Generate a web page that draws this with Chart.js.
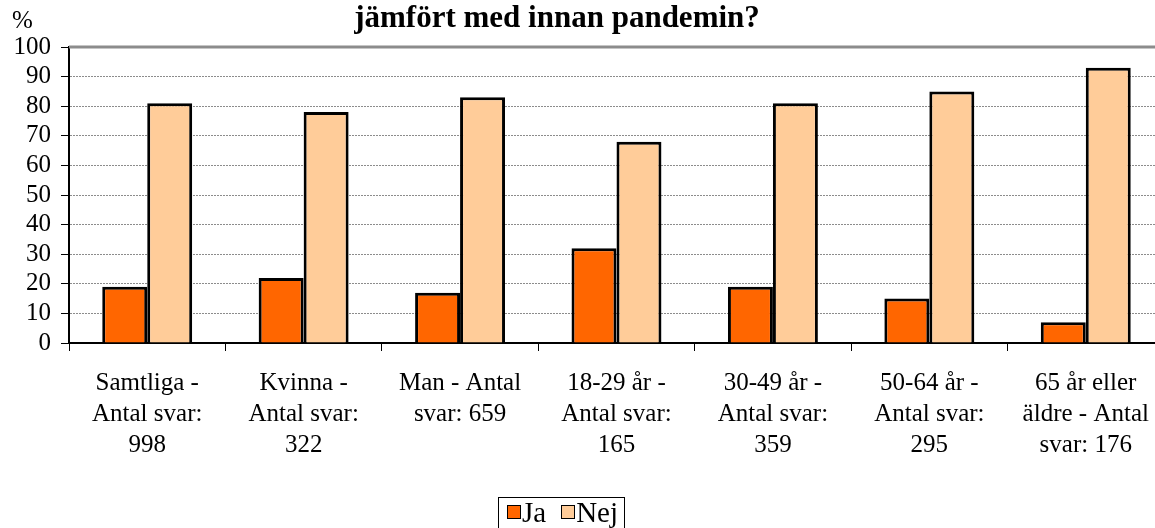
<!DOCTYPE html>
<html>
<head>
<meta charset="utf-8">
<script src="https://cdn.jsdelivr.net/npm/chart.js@4/dist/chart.umd.min.js"></script>
<style>
  html, body { margin: 0; padding: 0; overflow: hidden; background: #fff; }
  #wrap { position: relative; width: 1166px; height: 528px; }
  #legend {
    position: absolute; left: 498px; top: 497px; height: 60px;
    display: flex; align-items: flex-start;
    border: 1px solid #000; background: #fff; padding: 0 6px 0 8px;
    font-family: "Liberation Serif", "Times New Roman", serif; font-size: 29px;
    white-space: nowrap;
  }
  #legend .item { display: flex; align-items: center; height: 28px; line-height: 28px; margin-right: 15px; }
  #legend .item:last-child { margin-right: 0; }
  #legend .box {
    display: inline-block; width: 12px; height: 12px; border: 1.5px solid #000;
    margin-right: 1px;
  }
</style>
</head>
<body>
<div id="wrap">
  <canvas id="chart" width="1166" height="528"></canvas>
  <div id="legend"></div>
</div>
<script>
  const title = 'jämfört med innan pandemin?';
  const yUnit = '%';
  const categories = [
    ['Samtliga -', 'Antal svar:', '998'],
    ['Kvinna -', 'Antal svar:', '322'],
    ['Man - Antal', 'svar: 659'],
    ['18-29 år -', 'Antal svar:', '165'],
    ['30-49 år -', 'Antal svar:', '359'],
    ['50-64 år -', 'Antal svar:', '295'],
    ['65 år eller', 'äldre - Antal', 'svar: 176']
  ];
  const jaValues = [19, 22, 17, 32, 19, 15, 7];
  const nejValues = [81, 78, 83, 68, 81, 85, 93];
  const yTicks = { min: 0, max: 100, step: 10 };

  const serif = '"Liberation Serif", "Times New Roman", serif';

  // title, unit label and the solid top border of the plot
  const headerPlugin = {
    id: 'header',
    afterDraw(chart) {
      const ctx = chart.ctx;
      ctx.save();
      ctx.fillStyle = '#000';
      ctx.textBaseline = 'alphabetic';
      ctx.textAlign = 'center';
      ctx.font = 'bold 31px ' + serif;
      ctx.fillText(title, 557, 27);
      ctx.textAlign = 'left';
      ctx.font = '25px ' + serif;
      ctx.fillText(yUnit, 12, 28);
      const a = chart.chartArea;
      ctx.strokeStyle = '#8c8c8c';
      ctx.lineWidth = 3;
      ctx.beginPath();
      ctx.moveTo(a.left, a.top);
      ctx.lineTo(a.right + 10, a.top);
      ctx.stroke();
      ctx.restore();
    }
  };

  const chart = new Chart(document.getElementById('chart'), {
    type: 'bar',
    data: {
      labels: categories,
      datasets: [
        { label: 'Ja', data: jaValues, backgroundColor: '#ff6600', borderColor: '#000', borderWidth: 3 },
        { label: 'Nej', data: nejValues, backgroundColor: '#ffcc99', borderColor: '#000', borderWidth: 3 }
      ]
    },
    options: {
      responsive: false,
      devicePixelRatio: 1,
      animation: false,
      layout: { padding: { top: 47, right: 1, bottom: 0, left: 0 } },
      categoryPercentage: 0.575,
      barPercentage: 1,
      plugins: {
        legend: { display: false },
        title: { display: false },
        tooltip: { enabled: false }
      },
      scales: {
        x: {
          offset: true,
          grid: { offset: true, drawOnChartArea: false, drawTicks: true, tickLength: 8, tickColor: '#000', tickWidth: 1 },
          border: { display: true, color: '#000', width: 2 },
          ticks: {
            color: '#000', padding: 17, maxRotation: 0, autoSkip: false,
            font: { family: serif, size: 25, lineHeight: 1.24 }
          },
          afterFit(scale) { scale.height = 185; }
        },
        y: {
          min: yTicks.min,
          max: yTicks.max,
          grid: {
            color: '#8c8c8c', lineWidth: 1, tickLength: 8, tickColor: '#000', tickWidth: 1,
            drawTicks: true
          },
          border: { display: true, color: '#000', width: 2, dash: [2, 1] },
          ticks: {
            stepSize: yTicks.step, autoSkip: false, color: '#000', padding: 10,
            font: { family: serif, size: 25 }
          },
          afterFit(scale) { scale.width = 69; }
        }
      }
    },
    plugins: [headerPlugin]
  });

  // legend built from the datasets
  const legendEl = document.getElementById('legend');
  chart.data.datasets.forEach(ds => {
    const item = document.createElement('span');
    item.className = 'item';
    const box = document.createElement('span');
    box.className = 'box';
    box.style.background = ds.backgroundColor;
    item.appendChild(box);
    item.appendChild(document.createTextNode(ds.label));
    legendEl.appendChild(item);
  });
</script>
</body>
</html>
